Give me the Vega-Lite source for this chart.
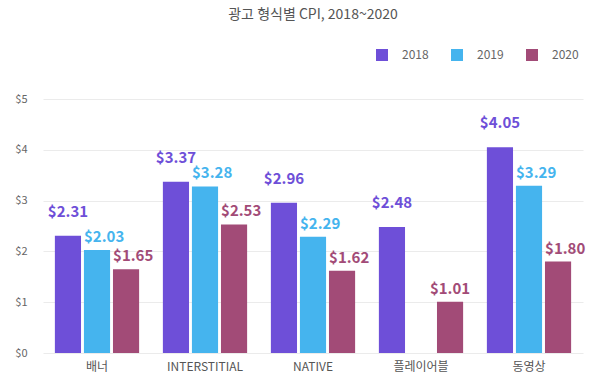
{
  "$schema": "https://vega.github.io/schema/vega-lite/v6.json",
  "width": 540,
  "height": 254,
  "autosize": {"type": "none"},
  "padding": {"left": 43, "top": 99, "right": 17, "bottom": 29},
  "background": "white",
  "title": {
    "text": "광고 형식별 CPI, 2018~2020",
    "anchor": "middle",
    "frame": "group",
    "offset": 27,
    "fontSize": 14,
    "fontWeight": "normal",
    "color": "#555555",
    "font": "Noto Sans CJK KR"
  },
  "config": {
    "view": {"stroke": null},
    "font": "Noto Sans CJK KR"
  },
  "data": {
    "values": [
      {"format": "배너", "year": "2018", "cpi": 2.31},
      {"format": "배너", "year": "2019", "cpi": 2.03},
      {"format": "배너", "year": "2020", "cpi": 1.65},
      {"format": "INTERSTITIAL", "year": "2018", "cpi": 3.37},
      {"format": "INTERSTITIAL", "year": "2019", "cpi": 3.28},
      {"format": "INTERSTITIAL", "year": "2020", "cpi": 2.53},
      {"format": "NATIVE", "year": "2018", "cpi": 2.96},
      {"format": "NATIVE", "year": "2019", "cpi": 2.29},
      {"format": "NATIVE", "year": "2020", "cpi": 1.62},
      {"format": "플레이어블", "year": "2018", "cpi": 2.48},
      {"format": "플레이어블", "year": "2020", "cpi": 1.01},
      {"format": "동영상", "year": "2018", "cpi": 4.05},
      {"format": "동영상", "year": "2019", "cpi": 3.29},
      {"format": "동영상", "year": "2020", "cpi": 1.80}
    ]
  },
  "encoding": {
    "x": {
      "field": "format",
      "type": "nominal",
      "sort": ["배너", "INTERSTITIAL", "NATIVE", "플레이어블", "동영상"],
      "scale": {"paddingInner": 0.22, "paddingOuter": 0.11},
      "axis": {
        "title": null,
        "labelAngle": 0,
        "ticks": false,
        "domain": false,
        "labelPadding": 8,
        "labelFontSize": 12,
        "labelColor": "#555555"
      }
    },
    "xOffset": {
      "field": "year",
      "type": "nominal",
      "scale": {"domain": ["2018", "2019", "2020"], "paddingInner": 0.1, "paddingOuter": 0}
    },
    "y": {
      "field": "cpi",
      "type": "quantitative",
      "scale": {"domain": [0, 5], "nice": false},
      "axis": {
        "title": null,
        "values": [0, 1, 2, 3, 4, 5],
        "format": "$.0f",
        "ticks": false,
        "domain": false,
        "labelPadding": 16,
        "labelFontSize": 11,
        "labelColor": "#666666",
        "gridColor": "#ebebeb"
      }
    },
    "color": {
      "field": "year",
      "type": "nominal",
      "scale": {"domain": ["2018", "2019", "2020"], "range": ["#6E4FD8", "#45B4EE", "#A24B77"]},
      "legend": {
        "title": null,
        "orient": "none",
        "direction": "horizontal",
        "legendX": 333,
        "legendY": -50,
        "symbolType": "square",
        "symbolSize": 144,
        "symbolStrokeWidth": 0,
        "labelFontSize": 12,
        "labelColor": "#666666",
        "labelOffset": 14,
        "columnPadding": 22
      }
    }
  },
  "layer": [
    {"mark": {"type": "bar"}},
    {
      "transform": [{"filter": "datum.year === '2018'"}],
      "mark": {"type": "text", "baseline": "alphabetic", "dy": -19, "fontSize": 15, "fontWeight": "bold"},
      "encoding": {
        "text": {"field": "cpi", "type": "quantitative", "format": "$.2f"}
      }
    },
    {
      "transform": [{"filter": "datum.year !== '2018' && datum.format !== '플레이어블'"}],
      "mark": {"type": "text", "baseline": "alphabetic", "align": "left", "dx": -13, "dy": -8, "fontSize": 15, "fontWeight": "bold"},
      "encoding": {
        "text": {"field": "cpi", "type": "quantitative", "format": "$.2f"}
      }
    },
    {
      "transform": [{"filter": "datum.year !== '2018' && datum.format === '플레이어블'"}],
      "mark": {"type": "text", "baseline": "alphabetic", "dy": -8, "fontSize": 15, "fontWeight": "bold"},
      "encoding": {
        "text": {"field": "cpi", "type": "quantitative", "format": "$.2f"}
      }
    }
  ]
}
